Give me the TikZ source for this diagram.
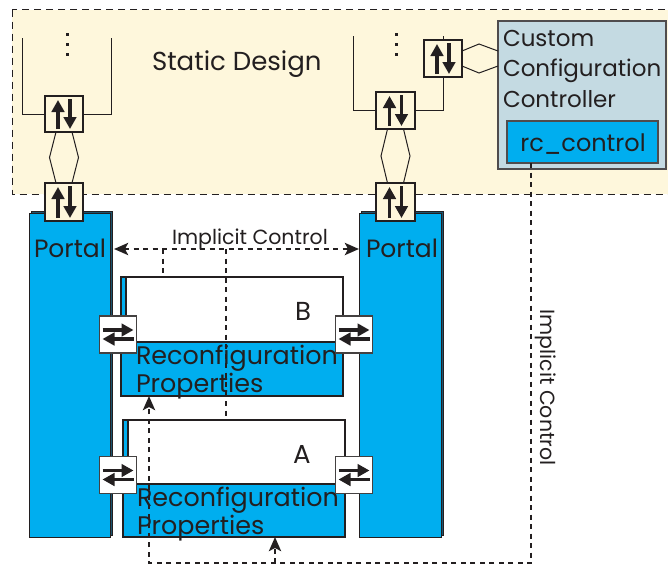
\documentclass[tikz,border=0pt]{standalone}
\usepackage{fontspec}
\setmainfont{Poppins}
\usetikzlibrary{arrows.meta,calc,shadows}
\definecolor{cream}{HTML}{FEF7DC}
\definecolor{pblue}{HTML}{00AEEF}
\definecolor{ctrlc}{HTML}{C4DAE2}
\definecolor{ink}{HTML}{231F20}
\definecolor{shadowc}{HTML}{1C5570}
\newcommand{\fs}[1]{\fontsize{#1}{#1}\selectfont}
\newcommand{\vsarrows}[1]{%
  \draw[sarr] ($(#1.south)+(-6,-3)$) -- ($(#1.north)+(-6,4)$);
  \draw[sarr] ($(#1.north)+(6,3)$) -- ($(#1.south)+(6,-3)$);}
\newcommand{\hsarrows}[1]{%
  \draw[sarr] ($(#1.west)+(3,-4.5)$) -- ($(#1.east)+(-3,-4.5)$);
  \draw[sarr] ($(#1.east)+(-3,4.5)$) -- ($(#1.west)+(3,4.5)$);}
\newcommand{\vhex}[2]{%
  \draw[thinl] ($(#1.south)+(-8,0)$) -- ($(#1.south)!0.5!(#2.north)+(-14.5,0)$) -- ($(#2.north)+(-8,0)$);
  \draw[thinl] ($(#1.south)+(8,0)$) -- ($(#1.south)!0.5!(#2.north)+(14.5,0)$) -- ($(#2.north)+(8,0)$);}
\begin{document}
\begin{tikzpicture}[x=1pt,y=-1pt,
  every node/.style={inner sep=0pt, outer sep=0pt, text=ink},
  swbox/.style={draw=ink, line width=1.1pt, fill=cream, minimum width=38pt, minimum height=37pt},
  hswbox/.style={draw=ink!85, line width=1.1pt, fill=white, minimum width=37pt, minimum height=37pt},
  sarr/.style={draw=ink, line width=3.2pt, -{Triangle[length=12pt,width=12.5pt]}},
  thinl/.style={draw=ink, line width=1pt},
  ctl/.style={draw=ink, line width=2.8pt, dash pattern=on 5pt off 4.5pt},
  ctltip/.style={-{Stealth[length=14pt,width=12pt,inset=3pt]}},
  portal/.style={draw=ink, fill=pblue, line width=0.9pt, anchor=north west,
    copy shadow={shadow xshift=2pt, shadow yshift=2pt, fill=shadowc, draw=ink, line width=0.9pt}},
  modblue/.style={draw=ink, fill=pblue, line width=1.1pt, anchor=north west},
  modwhite/.style={draw=ink, fill=white, line width=1.1pt, anchor=north west},
  txt/.style={anchor=base west},
  rptxt/.style={anchor=base west, align=left, font=\fontsize{25.4}{22.5}\selectfont},
]
\useasboundingbox (0,0) rectangle (668,566);
\clip (0,0) rectangle (668,566);
\fill[white] (0,0) rectangle (668,566);

% static design region
\draw[fill=cream, draw=ink, line width=1pt, dash pattern=on 7pt off 5pt] (12,9.5) rectangle (700,194);
\node[txt, font=\fs{26}] (sdt) at (152,70) {Static Design};

% controller
\node[draw=ink!80, fill=ctrlc, line width=1.3pt, minimum width=168pt, minimum height=148pt, anchor=north west] (ccc) at (498,21) {};
\node[txt, font=\fs{23}] (cc1) at (503,46) {Custom};
\node[txt, font=\fs{23}] (cc2) at (503,76) {Configuration};
\node[txt, font=\fs{23}] (cc3) at (503,107) {Controller};
\node[draw=ink!80, fill=pblue, line width=1.3pt, minimum width=151pt, minimum height=42pt, anchor=north west] (rc) at (507,121) {};
\node[anchor=base, font=\fs{24}] (rct) at (583,151) {rc\_control};

% portals
\node[portal, minimum width=81pt, minimum height=324pt] (pL) at (29,213) {};
\node[portal, minimum width=82pt, minimum height=324pt] (pR) at (359,213) {};
\node[txt, font=\fs{25}] (pLt) at (34,257) {Portal};
\node[txt, font=\fs{25}] (pRt) at (366,257) {Portal};

% switch boxes in the static design
\node[swbox, minimum height=36pt] (sw1) at (64,114) {};
\node[swbox, minimum height=38pt] (sw2) at (64,202) {};
\node[swbox, minimum width=39pt] (sw3) at (395.5,110.5) {};
\node[swbox] (sw4) at (443,58.5) {};
\node[swbox, minimum width=39pt, minimum height=38pt] (sw5) at (395.5,202) {};
\vsarrows{sw1}\vsarrows{sw2}\vsarrows{sw3}\vsarrows{sw4}\vsarrows{sw5}

% brackets
\draw[thinl] (22,38) |- (sw1.west);
\draw[thinl] (111,38) |- (sw1.east);
\draw[thinl] (353,36) |- (sw3.west);
\draw[thinl] (443,36) -- (sw4.north);
\draw[thinl] (sw4.south) |- (sw3.east);
\foreach \yy in {33,43,53} {
  \fill[ink] (66,\yy) rectangle (68.5,\yy+3);
  \fill[ink] (395,\yy) rectangle (397.5,\yy+3);
}

% links (hexagons)
\vhex{sw1}{sw2}
\vhex{sw3}{sw5}
\draw[thinl] ($(sw4.east)+(0,-7.5)$) -- ($(sw4.east)+(17,-14.5)$) -- ($(sw4.east -| ccc.west)+(0,-7.5)$);
\draw[thinl] ($(sw4.east)+(0,7.5)$) -- ($(sw4.east)+(17,14.5)$) -- ($(sw4.east -| ccc.west)+(0,7.5)$);

% module B
\node[modblue, minimum width=222pt, minimum height=119pt] (mB) at (121,277) {};
\node[modwhite, minimum width=217pt, minimum height=65pt] (mBw) at (126,277) {};
\node[txt, font=\fs{26}] (mBt) at (295,320) {B};
\node[rptxt] (mBr) at (136,392) {Reconfiguration\\Properties};

% module A
\node[modblue, minimum width=222pt, minimum height=117pt] (mA) at (123,420) {};
\node[modwhite, minimum width=217pt, minimum height=64pt] (mAw) at (128,420) {};
\node[txt, font=\fs{26}] (mAt) at (293,463) {A};
\node[rptxt] (mAr) at (137,534) {Reconfiguration\\Properties};

% module switches
\node[hswbox] (hLB) at (118,334.5) {};
\node[hswbox] (hRB) at (354,334.5) {};
\node[hswbox] (hLA) at (118,475) {};
\node[hswbox] (hRA) at (354,475) {};
\hsarrows{hLB}\hsarrows{hRB}\hsarrows{hLA}\hsarrows{hRA}

% implicit control (top)
\coordinate (icy) at (0,249);
\draw[ctl, {Stealth[length=14pt,width=12pt,inset=3pt]}-{Stealth[length=14pt,width=12pt,inset=3pt]}, shorten <=4pt]
  (pL.east |- icy) -- (pR.west |- icy);
\node[txt, font=\fs{20.5}] (ict) at (172,244) {Implicit Control};
\coordinate (b1) at (163,249);
\coordinate (b2) at (226,249);
\draw[ctl] (b1) -- (b1 |- mBw.north);
\draw[ctl] (b2) -- (b2 |- mAw.north);

% implicit control (from rc_control)
\coordinate (rcs) at ($(rc.south west)+(24,0)$);
\coordinate (lx) at (149,563);
\coordinate (ax) at (275,563);
\draw[ctl, ctltip] (rcs) -- (rcs |- lx) -- (lx) -- (lx |- mB.south);
\draw[ctl, ctltip] (ax) -- (ax |- mA.south);
\node[rotate=-90, anchor=base, font=\fs{20.5}] (icv) at (540,387.5) {Implicit Control};
\end{tikzpicture}
\end{document}
